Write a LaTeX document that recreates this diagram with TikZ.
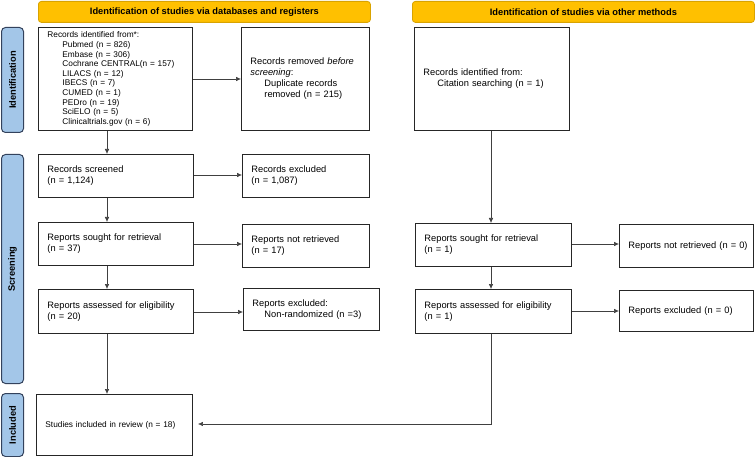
\documentclass[tikz,border=0pt]{standalone}
\usepackage{fontspec}
\setmainfont{Liberation Sans}
\usetikzlibrary{arrows.meta}
\definecolor{hdrfill}{HTML}{FFC000}
\definecolor{hdrline}{HTML}{D9A300}
\definecolor{sidefill}{HTML}{A3C6E8}
\definecolor{sideline}{HTML}{33425C}
\definecolor{arrline}{HTML}{404040}
\begin{document}
\begin{tikzpicture}[x=1pt,y=-1pt,
  font=\fontsize{9.3}{11}\selectfont,
  hdr/.style={draw=hdrline,fill=hdrfill,rounded corners=3pt,line width=0.8pt,anchor=north west,inner sep=0pt,font=\fontsize{9.3}{11}\selectfont\bfseries},
  side/.style={draw=sideline,fill=sidefill,rounded corners=4pt,line width=1pt,anchor=north west,inner sep=0pt},
  sidetext/.style={rotate=90,font=\fontsize{9.3}{11}\selectfont\bfseries},
  box/.style={draw=black!85,line width=0.9pt,anchor=north west,inner xsep=9pt,inner ysep=0pt,align=left},
  arr/.style={draw=arrline,line width=0.6pt,-{Latex[length=5pt,width=4.5pt]}}
]
\useasboundingbox (0,0) rectangle (755,457);
% headers
\node[hdr,minimum width=332pt,minimum height=21pt] (h1) at (38,1) {Identification of studies via databases and registers};
\node[hdr,minimum width=342pt,minimum height=21pt] (h2) at (412,1) {Identification of studies via other methods};
% side labels
\node[side,minimum width=22pt,minimum height=105pt] (s1) at (1,27) {};
\node[sidetext] at (s1.center) {Identification};
\node[side,minimum width=22pt,minimum height=229pt] (s2) at (1,154) {};
\node[sidetext] at (s2.center) {Screening};
\node[side,minimum width=22pt,minimum height=63pt] (s3) at (1,393) {};
\node[sidetext] at (s3.center) {Included};
% left column
\node[box,text width=136pt,minimum height=103pt,font=\fontsize{8.3}{9.6}\selectfont] (id) at (38,27) {Records identified from*:\\
\hspace*{15pt}Pubmed (n = 826)\\
\hspace*{15pt}Embase (n = 306)\\
\hspace*{15pt}Cochrane CENTRAL(n = 157)\\
\hspace*{15pt}LILACS (n = 12)\\
\hspace*{15pt}IBECS (n = 7)\\
\hspace*{15pt}CUMED (n = 1)\\
\hspace*{15pt}PEDro (n = 19)\\
\hspace*{15pt}SciELO (n = 5)\\
\hspace*{15pt}Clinicaltrials.gov (n = 6)};
\node[box,text width=110pt,minimum height=103pt] (rem) at (241,27) {Records removed \textit{before}\\\textit{screening}:\\
\hspace*{14pt}Duplicate records\\\hspace*{14pt}removed (n = 215)};
\node[box,text width=137pt,minimum height=43pt] (scr) at (38,154) {Records screened\\(n = 1,124)};
\node[box,text width=109pt,minimum height=43pt] (exc) at (242,154) {Records excluded\\(n = 1,087)};
\node[box,text width=137pt,minimum height=43pt] (sou) at (38,222) {Reports sought for retrieval\\(n = 37)};
\node[box,text width=109pt,minimum height=43pt] (nr) at (242,224) {Reports not retrieved\\(n = 17)};
\node[box,text width=137pt,minimum height=44pt] (ass) at (38,289) {Reports assessed for eligibility\\(n = 20)};
\node[box,text width=118pt,minimum height=42pt] (rex) at (243,288) {Reports excluded:\\\hspace*{12pt}Non-randomized (n =3)\\[2pt]};
\node[box,text width=138pt,minimum height=61pt,font=\fontsize{8.3}{10}\selectfont] (inc) at (36,394) {Studies included in review (n = 18)};
% right column
\node[box,text width=137pt,minimum height=103pt] (oid) at (414,27) {Records identified from:\\\hspace*{14pt}Citation searching (n = 1)};
\node[box,text width=138pt,minimum height=43pt] (osou) at (415,223) {Reports sought for retrieval\\(n = 1)};
\node[box,inner xsep=9pt,text width=116pt,minimum height=43pt] (onr) at (619,224) {\mbox{Reports not retrieved (n = 0)}};
\node[box,inner xsep=9pt,text width=116pt,minimum height=41pt] (orex) at (619,290) {\mbox{Reports excluded (n = 0)}};
\node[box,text width=138pt,minimum height=44pt] (oass) at (415,289) {Reports assessed for eligibility\\(n = 1)};
% arrows left
\draw[arr] (id.east |- 0,79) -- (rem.west |- 0,79);
\draw[arr] (id.south -| 107,0) -- (scr.north -| 107,0);
\draw[arr] (scr.east |- 0,175) -- (exc.west |- 0,175);
\draw[arr] (scr.south -| 107,0) -- (sou.north -| 107,0);
\draw[arr] (sou.east |- 0,244) -- (nr.west |- 0,244);
\draw[arr] (sou.south -| 107,0) -- (ass.north -| 107,0);
\draw[arr] (ass.east |- 0,312) -- (rex.west |- 0,312);
\draw[arr] (ass.south -| 107,0) -- (inc.north -| 107,0);
% arrows right
\draw[arr] (oid.south -| 491,0) -- (osou.north -| 491,0);
\draw[arr] (osou.east |- 0,244) -- (onr.west |- 0,244);
\draw[arr] (osou.south -| 491,0) -- (oass.north -| 491,0);
\draw[arr] (oass.east |- 0,311) -- (orex.west |- 0,311);
\coordinate (bend) at (491,424);
\draw[arr,shorten >=5pt] (oass.south -| bend) -- (bend) -- (inc.east |- bend);
\end{tikzpicture}
\end{document}
